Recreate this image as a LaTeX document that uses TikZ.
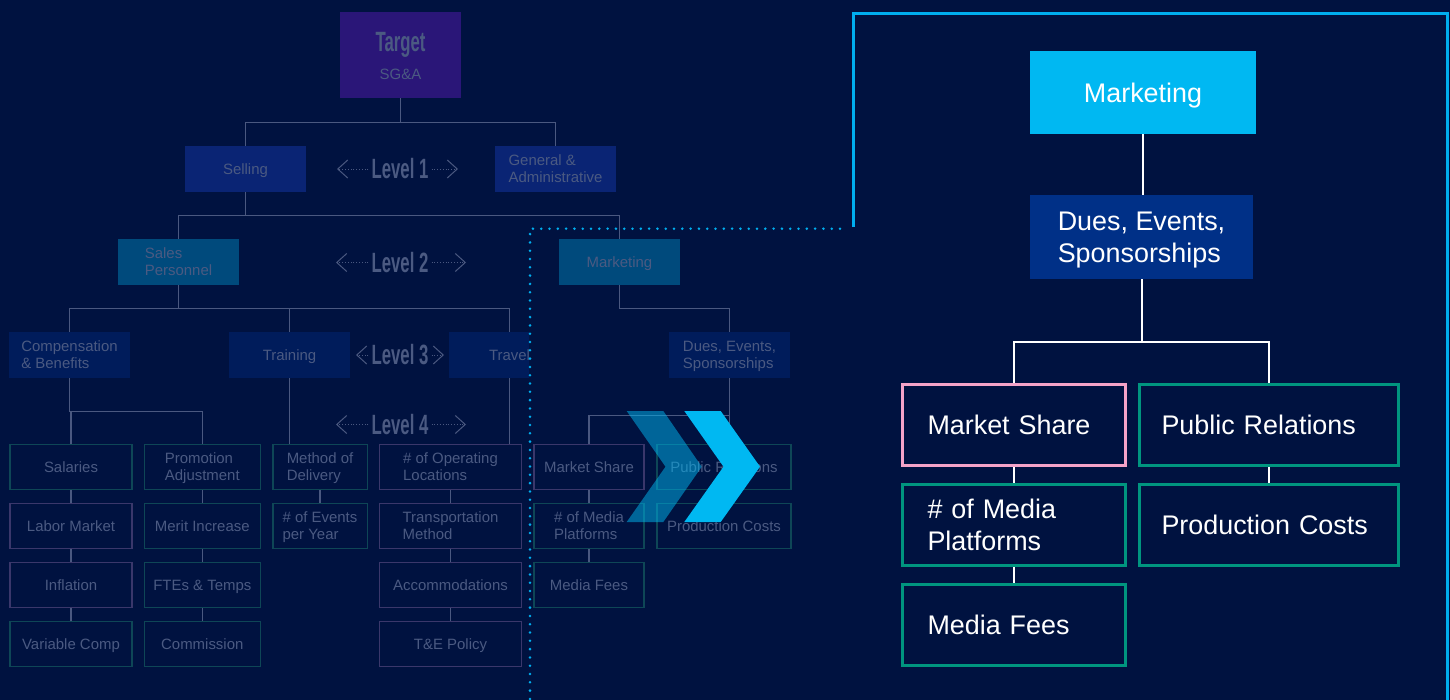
\documentclass[tikz,border=0pt]{standalone}
\usepackage{fontspec}
\setmainfont{Liberation Sans}
\newfontfamily\condfont[FakeStretch=0.6]{Liberation Sans}
\usetikzlibrary{positioning,arrows.meta}
\definecolor{bgnavy}{HTML}{001240}
\definecolor{dimtext}{HTML}{4B5A82}
\definecolor{treegray}{HTML}{4A5880}
\definecolor{targetpurple}{HTML}{2A1678}
\definecolor{sellblue}{HTML}{0A2474}
\definecolor{persteal}{HTML}{004A7C}
\definecolor{compblue}{HTML}{001C5B}
\definecolor{dimteal}{HTML}{0E4656}
\definecolor{dimpurple}{HTML}{3A376B}
\definecolor{brightcyan}{HTML}{00B8F2}
\definecolor{framecyan}{HTML}{00AEEF}
\definecolor{duesblue}{HTML}{003087}
\definecolor{sharepink}{HTML}{F4A3C8}
\definecolor{leafteal}{HTML}{00957F}
\begin{document}
\begin{tikzpicture}[x=1bp, y=-1bp,
  lvbox/.style={minimum width=121bp, minimum height=46bp, inner sep=0pt, align=left, text depth=0pt, text=dimtext, font=\fontsize{15}{17}\selectfont},
  leafbox/.style={lvbox, draw=#1, line width=1.4bp, fill=bgnavy, minimum height=44.6bp},
  dimlabel/.style={inner sep=0pt, text=dimtext, font=\fontsize{15}{17}\selectfont},
  levellabel/.style={inner sep=0pt, text=dimtext, font=\condfont\bfseries\fontsize{28}{28}\selectfont},
  levelarrow/.style={draw=treegray, line width=1bp, dash pattern=on 1bp off 1.8bp, -{Straight Barb[length=10bp,width=18bp]}},
  treeline/.style={draw=treegray, line width=1.3bp},
  bigbox/.style={minimum width=226bp, minimum height=83bp, inner sep=0pt, text=white, font=\fontsize{27}{32}\selectfont, align=left},
  rleaf/.style={bigbox, draw=#1, line width=3bp, fill=bgnavy, minimum height=81bp},
  cola/.style={minimum width=223bp, text width=173bp},
  colb/.style={minimum width=259bp, text width=215bp},
  rline/.style={draw=white, line width=2bp}]
\useasboundingbox (0,0) rectangle (1450,700);
\fill[bgnavy] (0,0) rectangle (1450,700);

% left tree, upper levels
\node[lvbox, fill=targetpurple, minimum height=86bp] (target) at (400.5,55) {};
\node[levellabel, anchor=base] (targettitle) at (400.5,51.7) {Target};
\node[dimlabel, anchor=base] (targetsub) at (400.5,79.3) {SG\&A};
\node[lvbox, fill=sellblue] (sell) at (245.5,169) {Selling};
\node[lvbox, fill=sellblue] (ga) at (555.5,169) {General \&\\Administrative};
\node[lvbox, fill=persteal] (salesp) at (178.5,262) {Sales\\Personnel};
\node[lvbox, fill=persteal] (mkt) at (619.5,262) {Marketing};
\node[lvbox, fill=compblue] (comp) at (69.5,355) {Compensation\\\& Benefits};
\node[lvbox, fill=compblue] (train) at (289.5,355) {Training};
\begin{scope}
\clip (0,0) rectangle (529,700);
\node[lvbox, fill=compblue] (travel) at (509.5,355) {Travel};
\end{scope}
\node[lvbox, fill=compblue] (ldues) at (729.5,355) {Dues, Events,\\Sponsorships};

% level labels
\foreach \lv/\y/\lt/\rt in {1/169/337/458, 2/262.5/336/466, 3/355/356/444, 4/424.5/336/466}{
  \node[levellabel] (lv\lv) at (400,\y) {Level \lv};
  \coordinate (lt\lv) at (\lt,\y);
  \coordinate (rt\lv) at (\rt,\y);
  \draw[levelarrow] ([xshift=-3bp]lv\lv.west) -- (lt\lv);
  \draw[levelarrow] ([xshift=3bp]lv\lv.east) -- (rt\lv);
}

% left tree, level 4
\node[leafbox=dimteal, minimum width=121.6bp] (sal) at (71,467) {Salaries};
\node[leafbox=dimpurple, minimum width=121.6bp, below=13bp of sal] (labor) {Labor Market};
\node[leafbox=dimpurple, minimum width=121.6bp, below=13bp of labor] (infl) {Inflation};
\node[leafbox=dimteal, minimum width=121.6bp, below=13bp of infl] (varcomp) {Variable Comp};
\node[leafbox=dimteal, minimum width=116bp] (promo) at (202.3,467) {Promotion\\Adjustment};
\node[leafbox=dimteal, minimum width=116bp, below=13bp of promo] (merit) {Merit Increase};
\node[leafbox=dimteal, minimum width=116bp, below=13bp of merit] (ftes) {FTEs \& Temps};
\node[leafbox=dimteal, minimum width=116bp, below=13bp of ftes] (commis) {Commission};
\node[leafbox=dimteal, minimum width=94.4bp] (meth) at (320,467) {Method of\\Delivery};
\node[leafbox=dimteal, minimum width=94.4bp, below=13bp of meth] (events) {\# of Events\\per Year};
\node[leafbox=dimpurple, minimum width=141.6bp] (oper) at (450.5,467) {\# of Operating\\Locations};
\node[leafbox=dimpurple, minimum width=141.6bp, below=13bp of oper] (transp) {Transportation\\Method};
\node[leafbox=dimpurple, minimum width=141.6bp, below=13bp of transp] (accom) {Accommodations};
\node[leafbox=dimpurple, minimum width=141.6bp, below=13bp of accom] (tepol) {T\&E Policy};
\node[leafbox=dimpurple, minimum width=110.3bp] (lms) at (589,467) {Market Share};
\node[leafbox=dimteal, minimum width=110.3bp, below=13bp of lms] (lmedia) {\# of Media\\Platforms};
\node[leafbox=dimteal, minimum width=110.3bp, below=13bp of lmedia] (lfees) {Media Fees};
\node[leafbox=dimteal, minimum width=134.3bp] (lpr) at (724,467) {Public Relations};
\node[leafbox=dimteal, minimum width=134.3bp, below=13bp of lpr] (lprod) {Production Costs};

% left tree connectors
\draw[treeline] (target.south) -- ++(0,24) -| (sell.north);
\draw[treeline] (target.south) -- ++(0,24) -| (ga.north);
\draw[treeline] (sell.south) -- ++(0,23) -| (salesp.north);
\draw[treeline] (sell.south) -- ++(0,23) -| (mkt.north);
\draw[treeline] (salesp.south) -- ++(0,23) -| (comp.north);
\draw[treeline] (salesp.south) -- ++(0,23) -| (train.north);
\draw[treeline] (salesp.south) -- ++(0,23) -| (travel.north);
\draw[treeline] (mkt.south) -- ++(0,23) -| (ldues.north);
\draw[treeline] (comp.south) -- ++(0,33) -| (sal.north);
\draw[treeline] (comp.south) -- ++(0,33) -| (promo.north);
\draw[treeline] (train.south) -- (train.south |- meth.north);
\draw[treeline] (travel.south) -- (travel.south |- oper.north);
\draw[treeline] (ldues.south) -- ++(0,37) -| (lms.north);
\draw[treeline] (ldues.south) -- (ldues.south |- lpr.north);
\foreach \a/\b in {sal/labor, labor/infl, infl/varcomp, promo/merit, merit/ftes, ftes/commis,
  meth/events, oper/transp, transp/accom, accom/tepol, lms/lmedia, lmedia/lfees, lpr/lprod}
  \draw[treeline] (\a.south) -- (\b.north);

% frame and dotted cut
\draw[framecyan, line width=3bp] (853,227) -- (853,14) -- (1447,14) -- (1447,700);
\draw[framecyan, line width=2.8bp, line cap=round, dash pattern=on 0bp off 8.3bp] (840,228.7) -- (530,228.7) -- (530,700);

% right panel
\node[bigbox, fill=brightcyan, align=center, text depth=0pt] (rmkt) at (1143,92.5) {Marketing};
\node[bigbox, fill=duesblue, text depth=0pt, minimum width=223bp, minimum height=84bp] (rdues) at (1141.5,237) {Dues, Events,\\Sponsorships};
\node[rleaf=sharepink, cola] (rms) at (1014,425) {Market Share};
\node[rleaf=leafteal, cola, below=16bp of rms] (rmedia) {\# of Media\\Platforms};
\node[rleaf=leafteal, cola, below=16bp of rmedia] (rfees) {Media Fees};
\node[rleaf=leafteal, colb] (rpr) at (1269,425) {Public Relations};
\node[rleaf=leafteal, colb, below=16bp of rpr] (rprod) {Production Costs};
\draw[rline] (rmkt.south) -- (rmkt.south |- rdues.north);
\draw[rline] (rdues.south) -- ++(0,63) -| (rms.north);
\draw[rline] (rdues.south) -- ++(0,63) -| (rpr.north);
\draw[rline] (rms.south) -- (rmedia.north);
\draw[rline] (rmedia.south) -- (rfees.north);
\draw[rline] (rpr.south) -- (rprod.north);

% chevrons
\fill[brightcyan, opacity=0.5] (626.7,411) -- (663.3,411) -- (701.7,466.7) -- (663.3,522) -- (626.7,522) -- (665.5,466.7) -- cycle;
\fill[brightcyan] (684.3,411) -- (720.7,411) -- (760,466.7) -- (720.7,522) -- (684.3,522) -- (723.5,466.7) -- cycle;
\end{tikzpicture}
\end{document}
